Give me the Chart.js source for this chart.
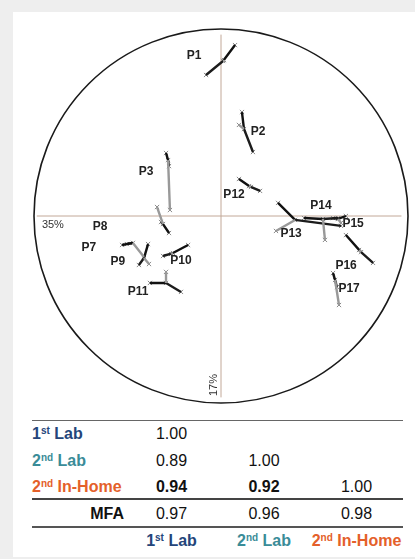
<!DOCTYPE html>
<html>
<head>
<meta charset="utf-8">
<script src="https://cdn.jsdelivr.net/npm/chart.js@4"></script>
<style>
  html, body { margin: 0; padding: 0; }
  body { width: 415px; height: 559px; background: #eeeeee; position: relative; overflow: hidden; font-family: "Liberation Sans", Arial, sans-serif; }
  #card { position: absolute; left: 13px; top: 12px; width: 410px; height: 545px; background: #fff; }
  #mfaChart { position: absolute; left: 13px; top: 12px; }
  .rule { position: absolute; left: 32px; width: 371px; }
  .cell { position: absolute; height: 20px; line-height: 20px; font-size: 16px; white-space: nowrap; }
  .cell sup { font-size: 10px; vertical-align: 0; position: relative; top: -5px; }
</style>
</head>
<body>
<div id="card"></div>
<canvas id="mfaChart" width="402" height="400"></canvas>
<div id="rvTable"></div>
<script>
const products = ['P1', 'P2', 'P3', 'P7', 'P8', 'P9', 'P10', 'P11', 'P12', 'P13', 'P14', 'P15', 'P16', 'P17'];
// consensus (MFA) positions
const mfaX = [0.011, 0.123, -0.283, -0.471, -0.310, -0.412, -0.257, -0.294, 0.150, 0.396, 0.545, 0.626, 0.749, 0.610];
const mfaY = [0.829, 0.465, 0.299, -0.144, -0.043, -0.225, -0.198, -0.358, 0.160, -0.021, -0.016, -0.016, -0.193, -0.342];
// partial points per session
const lab1X = [0.075, 0.112, -0.294, -0.529, -0.278, -0.390, -0.176, -0.380, 0.096, 0.305, 0.444, 0.668, 0.668, 0.599];
const lab1Y = [0.914, 0.556, 0.337, -0.155, -0.091, -0.150, -0.155, -0.358, 0.198, 0.070, -0.011, 0.000, -0.102, -0.305];
const lab2X = [0.016, 0.096, -0.273, -0.412, -0.342, -0.385, -0.267, -0.294, 0.160, 0.294, 0.556, 0.642, 0.738, 0.631];
const lab2Y = [0.834, 0.487, 0.032, -0.219, 0.048, -0.257, -0.203, -0.299, 0.155, -0.080, -0.128, -0.037, -0.182, -0.476];
const homeX = [-0.080, 0.171, -0.278, -0.503, -0.321, -0.439, -0.310, -0.214, 0.209, 0.642, 0.626, 0.599, 0.813, 0.620];
const homeY = [0.754, 0.342, 0.267, -0.150, -0.032, -0.262, -0.214, -0.406, 0.134, -0.053, -0.011, -0.011, -0.251, -0.380];

const dim1Label = '35%';
const dim2Label = '17%';

// RV coefficients table
const sessNum = ['1', '2', '2'];
const sessSup = ['st', 'nd', 'nd'];
const sessName = ['Lab', 'Lab', 'In-Home'];
const rvLab1 = [1.00];
const rvLab2 = [0.89, 1.00];
const rvHome = [0.94, 0.92, 1.00];
const rvMfa = [0.97, 0.96, 0.98];

// label placement around each product (px)
const labelOffsets = [[-29, -5], [14, 3], [-22, 12], [-44, 5], [-63, 3], [-26, 4], [8, 8], [-28, 9], [-15, 9], [-4, 14], [-2, -13], [15, 5], [-15, 14], [14, 9]];

function segments(px, py) {
  const out = [];
  products.forEach((p, i) => {
    out.push({ x: mfaX[i], y: mfaY[i] }, { x: px[i], y: py[i] }, { x: null, y: null });
  });
  return out;
}

const markers = [];
products.forEach((p, i) => {
  markers.push({ x: mfaX[i], y: mfaY[i] }, { x: lab1X[i], y: lab1Y[i] }, { x: lab2X[i], y: lab2Y[i] }, { x: homeX[i], y: homeY[i] });
});

const backdrop = {
  id: 'backdrop',
  beforeDatasetsDraw(chart) {
    const { ctx, scales: { x, y } } = chart;
    const cx = x.getPixelForValue(0), cy = y.getPixelForValue(0);
    const r = x.getPixelForValue(1) - cx;
    ctx.save();
    ctx.strokeStyle = '#c2a898';
    ctx.lineWidth = 1;
    ctx.beginPath();
    ctx.moveTo(x.getPixelForValue(-0.985), cy);
    ctx.lineTo(x.getPixelForValue(0.965), cy);
    ctx.moveTo(cx, y.getPixelForValue(0.97));
    ctx.lineTo(cx, y.getPixelForValue(-0.97));
    ctx.stroke();
    ctx.strokeStyle = '#1a1a1a';
    ctx.lineWidth = 1.6;
    ctx.beginPath();
    ctx.arc(cx, cy, r, 0, Math.PI * 2);
    ctx.stroke();
    ctx.restore();
  },
  afterDatasetsDraw(chart) {
    const { ctx, scales: { x, y } } = chart;
    ctx.save();
    ctx.fillStyle = '#222';
    ctx.font = 'bold 12px "Liberation Sans", Arial';
    ctx.textAlign = 'center';
    ctx.textBaseline = 'middle';
    products.forEach((p, i) => {
      const px = x.getPixelForValue(mfaX[i]) + labelOffsets[i][0];
      const py = y.getPixelForValue(mfaY[i]) + labelOffsets[i][1];
      ctx.fillText(p, px, py);
    });
    ctx.font = '11px "Liberation Sans", Arial';
    ctx.fillStyle = '#333';
    ctx.fillText(dim1Label, x.getPixelForValue(-0.899), y.getPixelForValue(-0.048));
    ctx.translate(x.getPixelForValue(-0.04), y.getPixelForValue(-0.904));
    ctx.rotate(-Math.PI / 2);
    ctx.fillText(dim2Label, 0, 0);
    ctx.restore();
  }
};

new Chart(document.getElementById('mfaChart'), {
  type: 'scatter',
  data: {
    datasets: [
      { data: segments(lab2X, lab2Y), showLine: true, spanGaps: false, borderColor: '#999', borderWidth: 2.4, pointRadius: 0 },
      { data: segments(lab1X, lab1Y), showLine: true, spanGaps: false, borderColor: '#111', borderWidth: 2.4, pointRadius: 0 },
      { data: segments(homeX, homeY), showLine: true, spanGaps: false, borderColor: '#1c1c1c', borderWidth: 2.4, pointRadius: 0 },
      { data: markers, showLine: false, pointStyle: 'crossRot', pointRadius: 3, borderColor: '#8a8a8a', borderWidth: 1 }
    ]
  },
  options: {
    responsive: false,
    animation: false,
    layout: { padding: { left: 21, top: 17, right: 7, bottom: 9 } },
    plugins: { legend: { display: false }, tooltip: { enabled: false } },
    scales: {
      x: { type: 'linear', min: -1, max: 1, display: false },
      y: { type: 'linear', min: -1, max: 1, display: false }
    }
  },
  plugins: [backdrop]
});

// table
const sessColors = ['#24457a', '#3a8c98', '#e4602a'];
const colCenters = [171.5, 264, 356.5];
const rowCenters = [434, 461, 487, 514, 541];
const table = document.getElementById('rvTable');

function sessHtml(i) {
  return `${sessNum[i]}<sup>${sessSup[i]}</sup> ${sessName[i]}`;
}
function addCell(html, cy, opts) {
  const d = document.createElement('div');
  d.className = 'cell';
  d.innerHTML = html;
  d.style.top = (cy - 10) + 'px';
  if (opts.center !== undefined) {
    d.style.left = (opts.center - 60) + 'px';
    d.style.width = '120px';
    d.style.textAlign = 'center';
  } else if (opts.right !== undefined) {
    d.style.left = (opts.right - 100) + 'px';
    d.style.width = '100px';
    d.style.textAlign = 'right';
  } else {
    d.style.left = opts.left + 'px';
  }
  d.style.color = opts.color || '#111';
  d.style.fontWeight = opts.bold ? 'bold' : 'normal';
  table.appendChild(d);
}
function addRule(top, h, color) {
  const d = document.createElement('div');
  d.className = 'rule';
  d.style.top = top + 'px';
  d.style.height = h + 'px';
  d.style.background = color;
  table.appendChild(d);
}

addRule(420, 1, '#666');
addRule(498, 2, '#444');
addRule(526, 2, '#555');

const rvRows = [rvLab1, rvLab2, rvHome];
rvRows.forEach((row, r) => {
  addCell(sessHtml(r), rowCenters[r], { left: 32, color: sessColors[r], bold: true });
  row.forEach((v, c) => {
    const isBold = r === 2 && c < 2;
    addCell(v.toFixed(2), rowCenters[r], { center: colCenters[c], bold: isBold, color: '#111' });
  });
});
addCell('MFA', rowCenters[3], { right: 124, bold: true, color: '#111' });
rvMfa.forEach((v, c) => addCell(v.toFixed(2), rowCenters[3], { center: colCenters[c], color: '#111' }));
sessNum.forEach((n, c) => addCell(sessHtml(c), rowCenters[4], { center: colCenters[c], color: sessColors[c], bold: true }));
</script>
</body>
</html>
